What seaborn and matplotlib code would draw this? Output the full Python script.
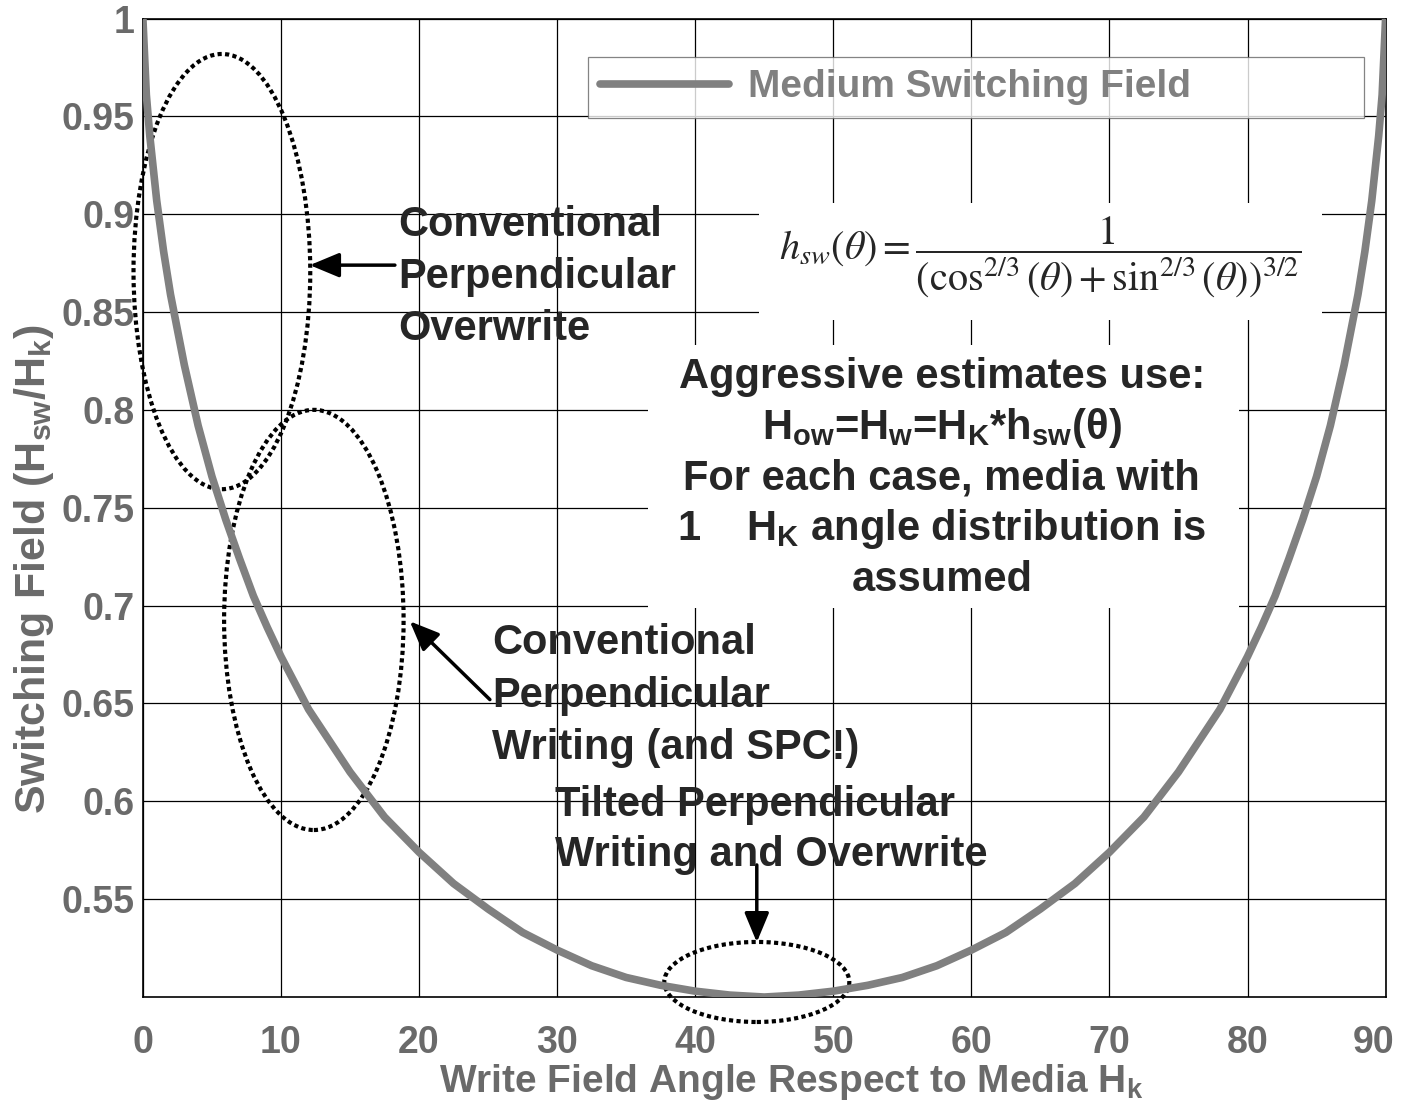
import matplotlib
matplotlib.use("Agg")
import matplotlib.pyplot as plt
import matplotlib.transforms as mtransforms
from matplotlib.patches import Ellipse, Rectangle
import seaborn as sns
import pandas as pd

# --- data ---
angles = [0, 0.25, 0.5, 1, 1.5, 2, 3, 4, 5, 6, 7, 8, 9, 10, 12, 15, 17.5, 20, 22.5,
          25, 27.5, 30, 32.5, 35, 37.5, 40, 42.5, 45, 47.5, 50, 52.5, 55, 57.5, 60,
          62.5, 65, 67.5, 70, 72.5, 75, 78, 80, 81, 82, 83, 84, 85, 86, 87, 88,
          88.5, 89, 89.5, 89.75, 90]
h_sw = [1.0, 0.961, 0.940, 0.907, 0.881, 0.859, 0.823, 0.792, 0.766, 0.744, 0.724,
        0.705, 0.689, 0.674, 0.647, 0.615, 0.592, 0.574, 0.558, 0.545, 0.533, 0.524,
        0.516, 0.510, 0.506, 0.503, 0.501, 0.500, 0.501, 0.503, 0.506, 0.510, 0.516,
        0.524, 0.533, 0.545, 0.558, 0.574, 0.592, 0.615, 0.647, 0.674, 0.689, 0.705,
        0.724, 0.744, 0.766, 0.792, 0.823, 0.859, 0.881, 0.907, 0.940, 0.961, 1.0]
x_ticks = [0, 10, 20, 30, 40, 50, 60, 70, 80, 90]
y_ticks = [0.55, 0.6, 0.65, 0.7, 0.75, 0.8, 0.85, 0.9, 0.95, 1.0]
y_labels = ["0.55", "0.6", "0.65", "0.7", "0.75", "0.8", "0.85", "0.9", "0.95", "1"]

df = pd.DataFrame({"angle": angles, "h_sw": h_sw})

sns.set_style("white")
plt.rcParams["font.family"] = ["Liberation Sans", "DejaVu Sans"]

GRAY = "#808080"
LABEL_GRAY = "#6a6a6a"

fig = plt.figure(figsize=(14.01, 11.05), dpi=100)
ax = fig.add_axes([0.102, 0.0977, 0.887, 0.8855])

sns.lineplot(data=df, x="angle", y="h_sw", ax=ax, color=GRAY, lw=5.5,
             label="Medium Switching Field", zorder=7, sort=False)

ax.set_xlim(0, 90)
ax.set_ylim(0.5, 1.0)
ax.set_xticks(x_ticks)
ax.set_yticks(y_ticks)
ax.set_yticklabels(y_labels)
ax.tick_params(axis="both", length=0, labelsize=27, labelcolor=LABEL_GRAY)
ax.tick_params(axis="x", pad=20)
ax.tick_params(axis="y", pad=6)
for lab in ax.get_xticklabels() + ax.get_yticklabels():
    lab.set_fontweight("bold")
# last x label sits a bit left of its gridline in the reference
last = ax.get_xticklabels()[-1]
last.set_transform(last.get_transform() +
                   mtransforms.ScaledTranslation(-0.12, 0, fig.dpi_scale_trans))
ax.grid(True, color="black", lw=0.9)
for sp in ax.spines.values():
    sp.set_color("black")
    sp.set_linewidth(1.2)

ax.set_xlabel(r"Write Field Angle Respect to Media H$_{\mathregular{k}}$",
              fontsize=28, fontweight="bold", color=LABEL_GRAY)
ax.xaxis.set_label_coords(0.522, -0.066)
ax.set_ylabel(r"Switching Field (H$_{\mathregular{sw}}$/H$_{\mathregular{k}}$)",
              fontsize=31, fontweight="bold", color=LABEL_GRAY, va="center")
ax.yaxis.set_label_coords(-0.088, 0.437)

# legend
leg = ax.legend(loc="upper left", bbox_to_anchor=(0.358, 0.90, 0.625, 0.061),
                mode="expand", borderaxespad=0, fontsize=28, handlelength=3.3,
                handletextpad=0.5, borderpad=0.32, frameon=True, fancybox=False,
                labelcolor=GRAY)
leg.get_frame().set_edgecolor("#666666")
leg.get_frame().set_linewidth(0.9)
leg.set_zorder(6)
for t in leg.get_texts():
    t.set_fontweight("bold")

# white boxes behind formula and note
ax.add_patch(Rectangle((44.6, 0.846), 40.8, 0.060, facecolor="white",
                       edgecolor="none", zorder=1))
ax.add_patch(Rectangle((36.6, 0.699), 42.8, 0.134, facecolor="white",
                       edgecolor="none", zorder=1))

ax.text(65.0, 0.878,
        r"$h_{sw}(\theta)=\dfrac{1}{(\cos^{2/3}(\theta)+\sin^{2/3}(\theta))^{3/2}}$",
        fontsize=29, ha="center", va="center", math_fontfamily="stix",
        fontweight="normal", zorder=4)

ax.text(57.86, 0.765,
        "Aggressive estimates use:\n"
        r"H$_{\mathregular{ow}}$=H$_{\mathregular{w}}$=H$_{\mathregular{K}}$*h$_{\mathregular{sw}}$(θ)" "\n"
        "For each case, media with\n"
        r"1    H$_{\mathregular{K}}$ angle distribution is" "\n"
        "assumed",
        fontsize=30, fontweight="bold", color="#262626", ha="center",
        va="center", linespacing=1.27, zorder=4)

# annotations
ax.text(18.46, 0.868, "Conventional\nPerpendicular\nOverwrite", fontsize=30,
        fontweight="bold", ha="left", va="center", linespacing=1.38, zorder=4)
ax.text(25.27, 0.654, "Conventional\nPerpendicular\nWriting (and SPC!)", fontsize=30,
        fontweight="bold", ha="left", va="center", linespacing=1.4, zorder=4)
ax.text(29.83, 0.5855, "Tilted Perpendicular\nWriting and Overwrite", fontsize=30,
        fontweight="bold", ha="left", va="center", linespacing=1.32, zorder=4)

arrow = dict(arrowstyle="-|>,head_length=0.6,head_width=0.25", color="black",
             lw=2.5, mutation_scale=30, shrinkA=0, shrinkB=0)
ax.annotate("", xy=(12.09, 0.874), xytext=(18.25, 0.874), arrowprops=arrow)
ax.annotate("", xy=(19.33, 0.692), xytext=(25.13, 0.652), arrowprops=arrow)
ax.annotate("", xy=(44.46, 0.528), xytext=(44.46, 0.5675), arrowprops=arrow)

# dotted ellipses
for (cx, cy, w, h) in [(5.72, 0.8707, 12.8, 0.2224),
                       (12.38, 0.6927, 13.0, 0.2147),
                       (44.46, 0.5077, 13.4, 0.0409)]:
    ax.add_patch(Ellipse((cx, cy), w, h, fill=False, edgecolor="black", lw=3,
                         linestyle=(0, (1, 0.8)), zorder=5, clip_on=False))

fig.savefig("out.png", dpi=100)
